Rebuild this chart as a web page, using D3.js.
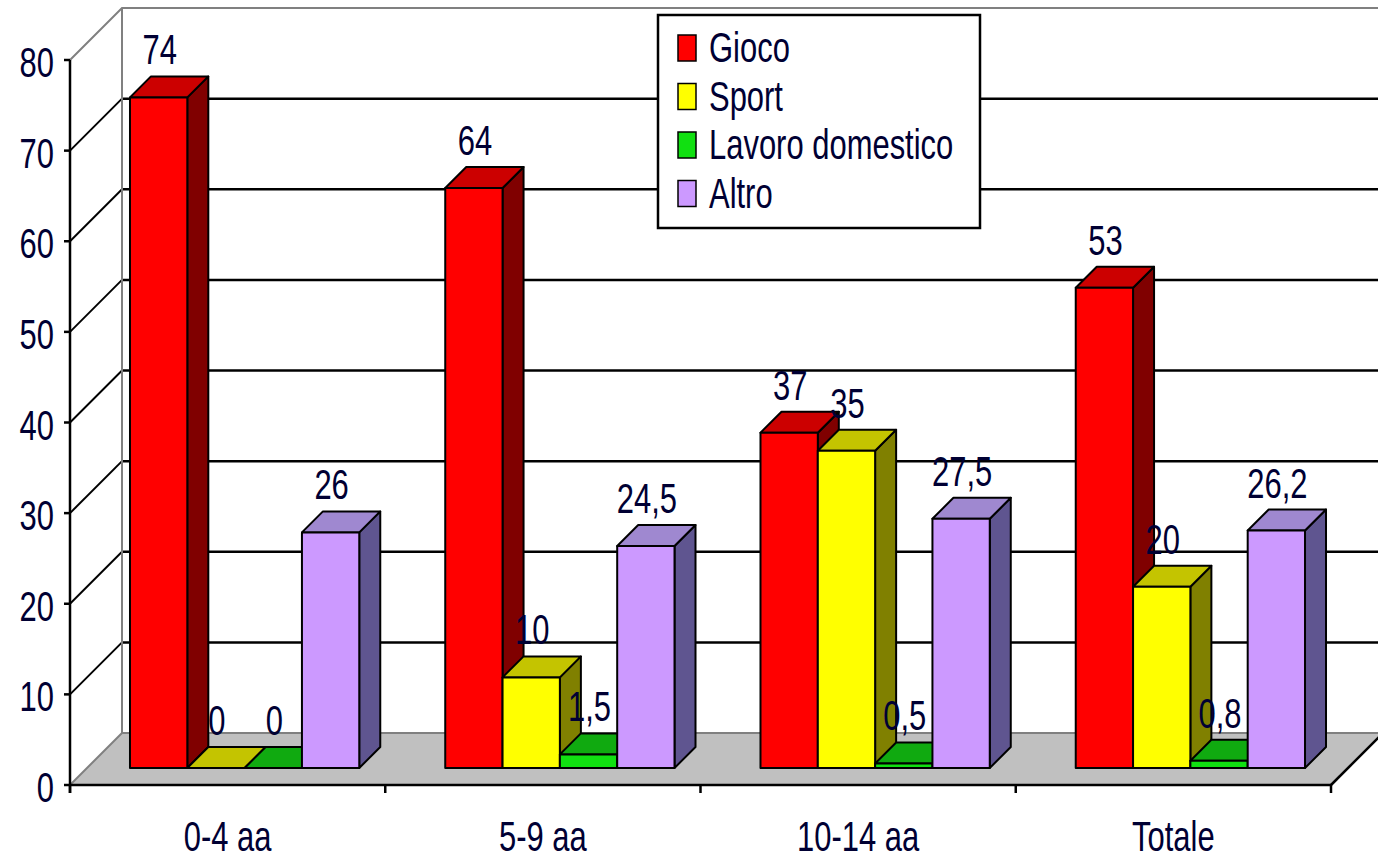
<!DOCTYPE html>
<html>
<head>
<meta charset="utf-8">
<script src="https://cdn.jsdelivr.net/npm/d3@7"></script>
<style>
  html, body { margin: 0; padding: 0; background: #ffffff; }
  svg { display: block; }
  text { font-family: "Liberation Sans", Arial, sans-serif; font-size: 43px; fill: #000033; }
</style>
</head>
<body>
<svg id="chart" width="1378" height="860"></svg>
<script>
// ---- data ----
const categories = ["0-4 aa", "5-9 aa", "10-14 aa", "Totale"];
const seriesNames = ["Gioco", "Sport", "Lavoro domestico", "Altro"];
const gioco  = [74, 64, 37, 53];
const sport  = [0, 10, 35, 20];
const lavoro = [0, 1.5, 0.5, 0.8];
const altro  = [26, 24.5, 27.5, 26.2];
const yTicks = [0, 10, 20, 30, 40, 50, 60, 70, 80];

const seriesValues = [gioco, sport, lavoro, altro];
const palette = [
  { front: "#ff0000", top: "#cc0000", side: "#800000" },
  { front: "#ffff00", top: "#c4c400", side: "#808000" },
  { front: "#11e011", top: "#10aa10", side: "#007a00" },
  { front: "#cc99ff", top: "#9f88d0", side: "#5f5590" }
];

// ---- geometry ----
const svg = d3.select("#chart");
const X0 = 70, X1 = 1331, Y0 = 785, YTOP = 60;
const DEPTH = 52, DF = 17, DB = 38;   // wall depth, bar front/back depth
const SX = 0.72;                      // horizontal text compression

const y = d3.scaleLinear().domain([0, 80]).range([Y0, YTOP]);
const x0 = d3.scaleBand().domain(categories).range([X0, X1]).padding(0);
const x1 = d3.scaleBand().domain(seriesNames).range([0, x0.bandwidth()])
  .paddingInner(0).paddingOuter(0.75);
const bw = x1.bandwidth();

const P = (px, py, d) => [px + d, py - d];
const poly = pts => pts.map(p => p.join(",")).join(" ");

function label(g, px, py, s, anchor) {
  g.append("text")
    .attr("transform", `translate(${px},${py}) scale(${SX},1)`)
    .attr("text-anchor", anchor)
    .text(s);
}

// ---- walls ----
const walls = svg.append("g");
walls.append("polygon")
  .attr("points", poly([[X0, y(80)], P(X0, y(80), DEPTH), P(X0, y(0), DEPTH), [X0, y(0)]]))
  .attr("fill", "#ffffff");
walls.append("polygon")
  .attr("points", poly([P(X0, y(80), DEPTH), P(X1, y(80), DEPTH), P(X1, y(0), DEPTH), P(X0, y(0), DEPTH)]))
  .attr("fill", "#ffffff");

yTicks.filter(v => v > 0 && v < 80).forEach(v => {
  const a = [X0, y(v)], b = P(X0, y(v), DEPTH), c = P(1400, y(v), DEPTH);
  walls.append("line").attr("x1", a[0]).attr("y1", a[1]).attr("x2", b[0]).attr("y2", b[1])
    .attr("stroke", "#000").attr("stroke-width", 2);
  walls.append("line").attr("x1", b[0]).attr("y1", b[1]).attr("x2", c[0]).attr("y2", c[1])
    .attr("stroke", "#000").attr("stroke-width", 2.5);
});
const tl = P(X0, y(80), DEPTH), bl = P(X0, y(0), DEPTH);
walls.append("polyline")
  .attr("points", poly([[X0, y(80)], tl, [1400, tl[1]]]))
  .attr("fill", "none").attr("stroke", "#808080").attr("stroke-width", 2);
walls.append("line").attr("x1", tl[0]).attr("y1", tl[1]).attr("x2", bl[0]).attr("y2", bl[1])
  .attr("stroke", "#808080").attr("stroke-width", 2);

walls.append("polygon")
  .attr("points", poly([[X0, y(0)], [X1, y(0)], P(X1, y(0), DEPTH), P(X0, y(0), DEPTH)]))
  .attr("fill", "#c0c0c0");
walls.append("line").attr("x1", bl[0]).attr("y1", bl[1]).attr("x2", 1400).attr("y2", bl[1])
  .attr("stroke", "#808080").attr("stroke-width", 2);
walls.append("line").attr("x1", X0).attr("y1", y(0)).attr("x2", bl[0]).attr("y2", bl[1])
  .attr("stroke", "#808080").attr("stroke-width", 2);
const fr = P(X1, y(0), DEPTH);
walls.append("line").attr("x1", X1).attr("y1", y(0)).attr("x2", fr[0]).attr("y2", fr[1])
  .attr("stroke", "#000").attr("stroke-width", 2.5);

// ---- bars (left to right, each with its label) ----
const bars = svg.append("g");
const fmt = v => String(v).replace(".", ",");
categories.forEach((cat, ci) => {
  seriesNames.forEach((s, si) => {
    const v = seriesValues[si][ci];
    const c = palette[si];
    const xl = x0(cat) + x1(s), xr = xl + bw;
    const yb = y(0), yt = y(v);
    const fbl = P(xl, yb, DF), fbr = P(xr, yb, DF), ftl = P(xl, yt, DF), ftr = P(xr, yt, DF);
    const bbr = P(xr, yb, DB), btl = P(xl, yt, DB), btr = P(xr, yt, DB);
    const g = bars.append("g").attr("stroke", "#000").attr("stroke-width", 2).attr("stroke-linejoin", "round");
    g.append("polygon").attr("points", poly([fbr, bbr, btr, ftr])).attr("fill", c.side);
    g.append("polygon").attr("points", poly([ftl, ftr, btr, btl])).attr("fill", c.top);
    if (v > 0) g.append("polygon").attr("points", poly([fbl, fbr, ftr, ftl])).attr("fill", c.front);
    label(bars, (xl + xr) / 2 + DF + 1, yt - DB - 12, fmt(v), "middle");
  });
});

// ---- axes ----
const ax = svg.append("g").attr("stroke", "#000").attr("stroke-width", 2.5);
ax.append("line").attr("x1", X0).attr("y1", y(80)).attr("x2", X0).attr("y2", Y0 + 8);
ax.append("line").attr("x1", X0).attr("y1", Y0).attr("x2", X1).attr("y2", Y0);
yTicks.forEach(v => {
  ax.append("line").attr("x1", X0 - 6).attr("y1", y(v)).attr("x2", X0).attr("y2", y(v));
});
const bounds = categories.map(c => x0(c)).concat([X1]);
bounds.forEach(bx => {
  ax.append("line").attr("x1", bx).attr("y1", Y0).attr("x2", bx).attr("y2", Y0 + 8);
});

const tg = svg.append("g");
yTicks.forEach(v => label(tg, 54, y(v) + 17, String(v), "end"));
categories.forEach(c => label(tg, x0(c) + x0.bandwidth() / 2, 851, c, "middle"));

// ---- legend ----
const lg = svg.append("g");
lg.append("rect").attr("x", 658).attr("y", 15).attr("width", 322).attr("height", 213)
  .attr("fill", "#ffffff").attr("stroke", "#000").attr("stroke-width", 2.5);
seriesNames.forEach((s, i) => {
  const ry = 35 + i * 48.5;
  lg.append("rect").attr("x", 678).attr("y", ry).attr("width", 18).attr("height", 26)
    .attr("fill", palette[i].front).attr("stroke", "#000").attr("stroke-width", 1.5);
  label(lg, 709, ry + 27, s, "start");
});
</script>
</body>
</html>
